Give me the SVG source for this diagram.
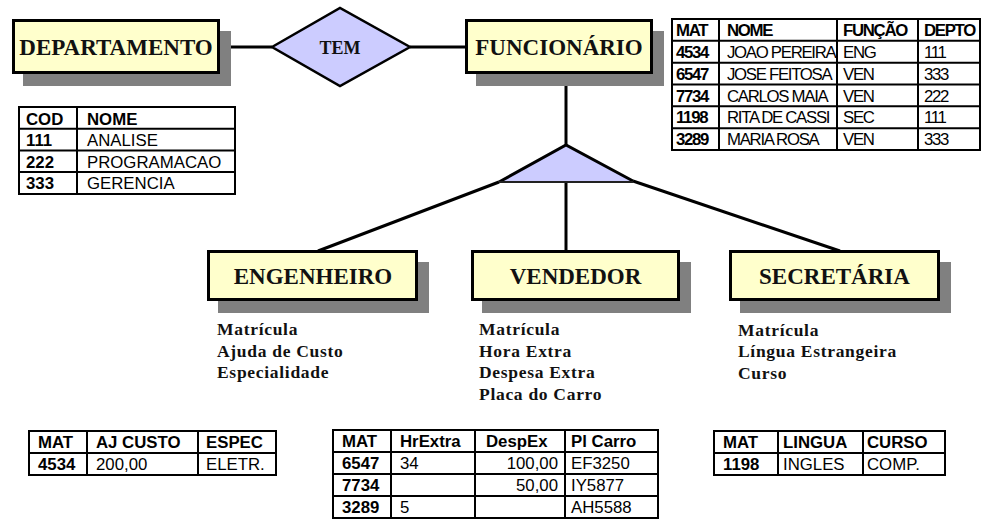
<svg xmlns="http://www.w3.org/2000/svg" width="990" height="531" viewBox="0 0 990 531">
<style>
.shadow{fill:#808080}
.box{fill:#FFFFCC;stroke:#000;stroke-width:3}
.title{font-family:"Liberation Serif","Times New Roman",serif;font-weight:bold;font-size:23px;text-anchor:middle;fill:#111}
.rel{font-family:"Liberation Serif","Times New Roman",serif;font-weight:bold;font-size:18px;text-anchor:middle;fill:#111}
.attr{font-family:"Liberation Serif","Times New Roman",serif;font-weight:bold;font-size:17.5px;letter-spacing:0.7px;fill:#111}
.conn{stroke:#000;stroke-width:3;fill:none}
.tb{fill:#fff;stroke:#000;stroke-width:2}
.tl{stroke:#000;stroke-width:2}
.t{font-family:"Liberation Sans",Arial,sans-serif;font-size:16.8px;fill:#000}
.b{font-weight:bold}
.c{letter-spacing:-1.3px}
.r{text-anchor:end}
</style>

<g id="connectors">
<line class="conn" x1="220" y1="47" x2="272" y2="47" stroke-width="2.5"/>
<line class="conn" x1="410" y1="47" x2="466" y2="47" stroke-width="2.5"/>
<line class="conn" x1="566" y1="74" x2="566" y2="146"/>
<line class="conn" x1="566" y1="182" x2="566" y2="251"/>
<line class="conn" x1="499" y1="182" x2="318" y2="251"/>
<line class="conn" x1="633" y1="181" x2="840" y2="251"/>
</g>

<g id="departamento">
<rect class="shadow" x="23" y="31" width="208" height="55"/>
<rect class="box" x="13.5" y="20.5" width="205" height="52"/>
<text class="title" x="116" y="55">DEPARTAMENTO</text>
</g>

<g id="tem">
<polygon points="272,47 340,8 410,47 340,86" fill="#CCCCFF" stroke="#000" stroke-width="2.5"/>
<text class="rel" x="340" y="54">TEM</text>
</g>

<g id="funcionario">
<rect class="shadow" x="476" y="31" width="188" height="55"/>
<rect class="box" x="466.5" y="20.5" width="185" height="52"/>
<text class="title" x="559" y="55">FUNCIONÁRIO</text>
</g>

<g id="especializacao">
<polygon points="566,145 499,182 633,182" fill="#CCCCFF"/>
<path d="M499,182 L566,145 L633,181" fill="none" stroke="#000" stroke-width="3"/>
<line x1="499" y1="182" x2="633" y2="182" stroke="#222" stroke-width="2"/>
</g>

<g id="engenheiro">
<rect class="shadow" x="218" y="262" width="211" height="51"/>
<rect class="box" x="208.5" y="251.5" width="208" height="48"/>
<text class="title" x="313" y="284">ENGENHEIRO</text>
<text class="attr" x="217" y="335">Matrícula</text>
<text class="attr" x="217" y="356.7">Ajuda de Custo</text>
<text class="attr" x="217" y="378.4">Especialidade</text>
</g>

<g id="vendedor">
<rect class="shadow" x="482" y="262" width="209" height="51"/>
<rect class="box" x="472.5" y="251.5" width="206" height="48"/>
<text class="title" x="575.5" y="284">VENDEDOR</text>
<text class="attr" x="479" y="335">Matrícula</text>
<text class="attr" x="479" y="356.7">Hora Extra</text>
<text class="attr" x="479" y="378.4">Despesa Extra</text>
<text class="attr" x="479" y="400.1">Placa do Carro</text>
</g>

<g id="secretaria">
<rect class="shadow" x="740" y="262" width="211" height="51"/>
<rect class="box" x="730.5" y="251.5" width="208" height="48"/>
<text class="title" x="834.5" y="284">SECRETÁRIA</text>
<text class="attr" x="738" y="335.5">Matrícula</text>
<text class="attr" x="738" y="357">Língua Estrangeira</text>
<text class="attr" x="738" y="378.5">Curso</text>
</g>

<g id="tabela-departamento">
<rect class="tb" x="19" y="107" width="216" height="87"/>
<line class="tl" x1="19" y1="128.7" x2="235" y2="128.7"/>
<line class="tl" x1="19" y1="150.4" x2="235" y2="150.4"/>
<line class="tl" x1="19" y1="172.1" x2="235" y2="172.1"/>
<line class="tl" x1="77" y1="107" x2="77" y2="194"/>
<text class="t b" x="26" y="124.5">COD</text><text class="t b" x="87" y="124.5">NOME</text>
<text class="t b" x="26" y="146">111</text><text class="t" x="87" y="146">ANALISE</text>
<text class="t b" x="26" y="167.7">222</text><text class="t" x="87" y="167.7">PROGRAMACAO</text>
<text class="t b" x="26" y="189.4">333</text><text class="t" x="87" y="189.4">GERENCIA</text>
</g>

<g id="tabela-funcionario">
<rect class="tb" x="672" y="19" width="308" height="131"/>
<line class="tl" x1="672" y1="40.8" x2="980" y2="40.8"/>
<line class="tl" x1="672" y1="62.7" x2="980" y2="62.7"/>
<line class="tl" x1="672" y1="84.5" x2="980" y2="84.5"/>
<line class="tl" x1="672" y1="106.3" x2="980" y2="106.3"/>
<line class="tl" x1="672" y1="128.2" x2="980" y2="128.2"/>
<line class="tl" x1="719" y1="19" x2="719" y2="150"/>
<line class="tl" x1="837" y1="19" x2="837" y2="150"/>
<line class="tl" x1="918" y1="19" x2="918" y2="150"/>
<text class="t b c" x="676" y="36">MAT</text><text class="t b c" x="727" y="36">NOME</text><text class="t b c" x="843" y="36">FUNÇÃO</text><text class="t b c" x="924" y="36">DEPTO</text>
<text class="t b c" x="676" y="57.8">4534</text><text class="t c" x="727" y="57.8">JOAO PEREIRA</text><text class="t c" x="843" y="57.8">ENG</text><text class="t c" x="924" y="57.8">111</text>
<text class="t b c" x="676" y="79.7">6547</text><text class="t c" x="727" y="79.7">JOSE FEITOSA</text><text class="t c" x="843" y="79.7">VEN</text><text class="t c" x="924" y="79.7">333</text>
<text class="t b c" x="676" y="101.5">7734</text><text class="t c" x="727" y="101.5">CARLOS MAIA</text><text class="t c" x="843" y="101.5">VEN</text><text class="t c" x="924" y="101.5">222</text>
<text class="t b c" x="676" y="123.3">1198</text><text class="t c" x="727" y="123.3">RITA DE CASSI</text><text class="t c" x="843" y="123.3">SEC</text><text class="t c" x="924" y="123.3">111</text>
<text class="t b c" x="676" y="145.2">3289</text><text class="t c" x="727" y="145.2">MARIA ROSA</text><text class="t c" x="843" y="145.2">VEN</text><text class="t c" x="924" y="145.2">333</text>
</g>

<g id="tabela-engenheiro">
<rect class="tb" x="29" y="431" width="247" height="44"/>
<line class="tl" x1="29" y1="453" x2="276" y2="453"/>
<line class="tl" x1="87" y1="431" x2="87" y2="475"/>
<line class="tl" x1="198" y1="431" x2="198" y2="475"/>
<text class="t b" x="38" y="447.5">MAT</text><text class="t b" x="96" y="447.5">AJ CUSTO</text><text class="t b" x="206" y="447.5">ESPEC</text>
<text class="t b" x="38" y="469.5">4534</text><text class="t" x="96" y="469.5">200,00</text><text class="t" x="206" y="469.5">ELETR.</text>
</g>

<g id="tabela-vendedor">
<rect class="tb" x="333" y="430" width="325" height="88"/>
<line class="tl" x1="333" y1="452" x2="658" y2="452"/>
<line class="tl" x1="333" y1="474" x2="658" y2="474"/>
<line class="tl" x1="333" y1="496" x2="658" y2="496"/>
<line class="tl" x1="391" y1="430" x2="391" y2="518"/>
<line class="tl" x1="475" y1="430" x2="475" y2="518"/>
<line class="tl" x1="565" y1="430" x2="565" y2="518"/>
<text class="t b" x="342" y="447">MAT</text><text class="t b" x="400" y="447">HrExtra</text><text class="t b" x="486" y="447">DespEx</text><text class="t b" x="571" y="447">Pl Carro</text>
<text class="t b" x="342" y="469">6547</text><text class="t" x="400" y="469">34</text><text class="t r" x="558" y="469">100,00</text><text class="t" x="571" y="469">EF3250</text>
<text class="t b" x="342" y="491">7734</text><text class="t r" x="558" y="491">50,00</text><text class="t" x="571" y="491">IY5877</text>
<text class="t b" x="342" y="513">3289</text><text class="t" x="400" y="513">5</text><text class="t" x="571" y="513">AH5588</text>
</g>

<g id="tabela-secretaria">
<rect class="tb" x="714" y="431" width="231" height="44"/>
<line class="tl" x1="714" y1="453" x2="945" y2="453"/>
<line class="tl" x1="778" y1="431" x2="778" y2="475"/>
<line class="tl" x1="863" y1="431" x2="863" y2="475"/>
<text class="t b" x="723" y="447.5">MAT</text><text class="t b" x="783" y="447.5">LINGUA</text><text class="t b" x="867" y="447.5">CURSO</text>
<text class="t b" x="723" y="469.5">1198</text><text class="t" x="783" y="469.5">INGLES</text><text class="t" x="867" y="469.5">COMP.</text>
</g>
</svg>
